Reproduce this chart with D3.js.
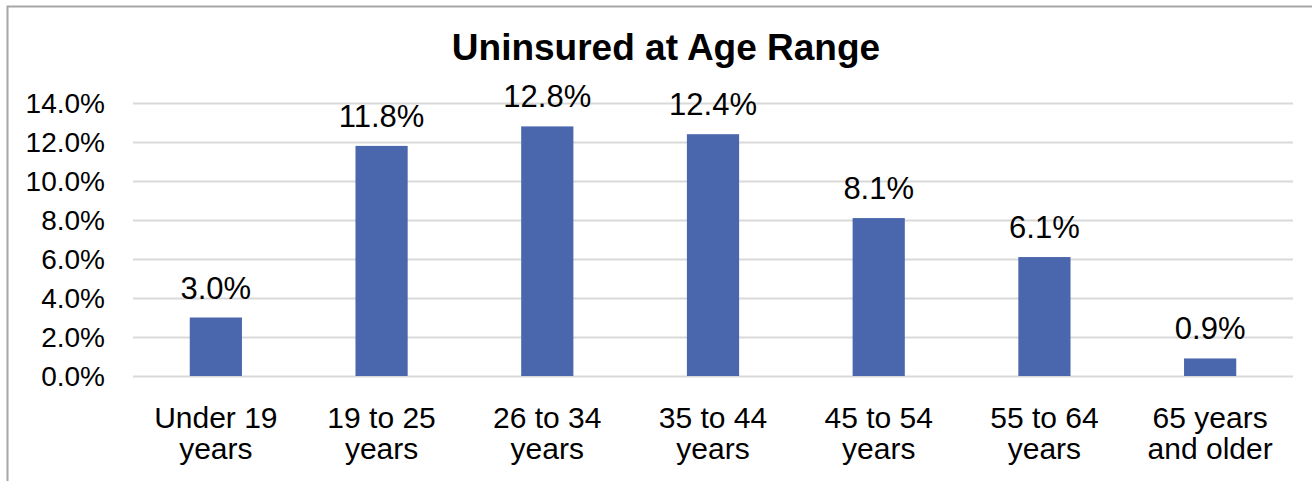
<!DOCTYPE html>
<html>
<head>
<meta charset="utf-8">
<script src="https://cdn.jsdelivr.net/npm/d3@7"></script>
<style>
  body { margin: 0; background: #fff; }
  text { font-family: "Liberation Sans", Arial, sans-serif; fill: #000; }
</style>
</head>
<body>
<svg id="chart" width="1312" height="481"></svg>
<script>
// data
var categories = [["Under 19", "years"], ["19 to 25", "years"], ["26 to 34", "years"],
                  ["35 to 44", "years"], ["45 to 54", "years"], ["55 to 64", "years"],
                  ["65 years", "and older"]];
var values = [3.0, 11.8, 12.8, 12.4, 8.1, 6.1, 0.9];
var yTicks = [0, 2, 4, 6, 8, 10, 12, 14];

var svg = d3.select("#chart");

// outer frame (only left and top visible)
svg.append("rect")
  .attr("x", 7.5).attr("y", 6.5)
  .attr("width", 1400).attr("height", 600)
  .attr("fill", "none")
  .attr("stroke", "#a6a6a6")
  .attr("stroke-width", 2);

var x = d3.scaleBand()
  .domain(d3.range(values.length))
  .range([133, 1293])
  .paddingInner(0.685)
  .paddingOuter(0.3425);

var y = d3.scaleLinear().domain([0, 14]).range([376, 103]);

// gridlines
svg.append("g")
  .selectAll("line")
  .data(yTicks)
  .join("line")
  .attr("x1", 133).attr("x2", 1293)
  .attr("y1", function(d) { return Math.round(y(d)) + 0.5; })
  .attr("y2", function(d) { return Math.round(y(d)) + 0.5; })
  .attr("stroke", "#d9d9d9")
  .attr("stroke-width", 2);

// y tick labels
svg.append("g")
  .selectAll("text")
  .data(yTicks)
  .join("text")
  .attr("x", 105)
  .attr("y", function(d) { return y(d) + 10; })
  .attr("text-anchor", "end")
  .style("font-size", "28px")
  .text(function(d) { return d.toFixed(1) + "%"; });

// bars
svg.append("g")
  .selectAll("rect")
  .data(values)
  .join("rect")
  .attr("x", function(d, i) { return x(i); })
  .attr("y", function(d) { return y(d); })
  .attr("width", x.bandwidth())
  .attr("height", function(d) { return y(0) - y(d); })
  .attr("fill", "#4a67ae");

// value labels
svg.append("g")
  .selectAll("text")
  .data(values)
  .join("text")
  .attr("x", function(d, i) { return x(i) + x.bandwidth() / 2; })
  .attr("y", function(d) { return y(d) - 19; })
  .attr("text-anchor", "middle")
  .style("font-size", "31px")
  .text(function(d) { return d.toFixed(1) + "%"; });

// category labels
var cat = svg.append("g")
  .selectAll("text")
  .data(categories)
  .join("text")
  .attr("x", function(d, i) { return x(i) + x.bandwidth() / 2; })
  .attr("y", 428)
  .attr("text-anchor", "middle")
  .style("font-size", "30px");

cat.selectAll("tspan")
  .data(function(d) { return d; })
  .join("tspan")
  .attr("x", function() { return d3.select(this.parentNode).attr("x"); })
  .attr("dy", function(d, j) { return j === 0 ? 0 : 31; })
  .text(function(d) { return d; });

// title
svg.append("text")
  .attr("x", 666)
  .attr("y", 60)
  .attr("text-anchor", "middle")
  .style("font-size", "37px")
  .style("font-weight", "bold")
  .text("Uninsured at Age Range");
</script>
</body>
</html>
